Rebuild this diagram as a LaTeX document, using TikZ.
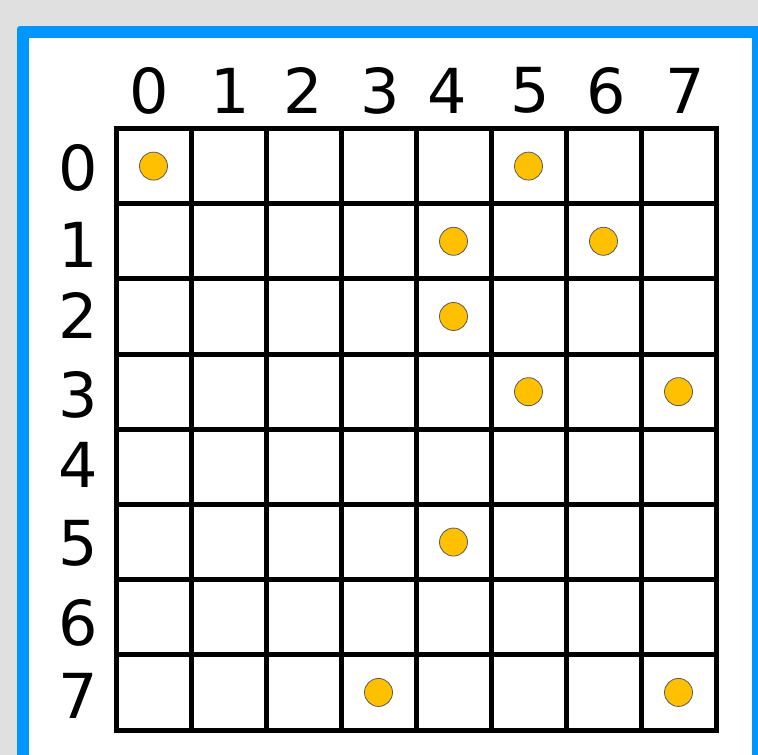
\documentclass[tikz,border=0pt]{standalone}
\usepackage{fontspec}
\setmainfont{DejaVu Sans}
\definecolor{framebg}{HTML}{E0E0E0}
\definecolor{frameblue}{HTML}{0096FF}
\definecolor{stonefill}{HTML}{FFC000}
\definecolor{stoneline}{HTML}{5A5A5A}

\begin{document}
\begin{tikzpicture}[
        x=1pt, y=-1pt,
        axislabel/.style={font=\fontsize{62}{62}\selectfont, inner sep=0pt},
        gridline/.style={line width=5pt, line cap=rect},
        stone/.style={circle, draw=stoneline, fill=stonefill, line width=0.8pt, minimum size=28pt, inner sep=0pt}
    ]
    \useasboundingbox (0,0) rectangle (758,755);
    \clip (0,0) rectangle (758,755);
    % Background and frame
    \fill[framebg] (0,0) rectangle (758,755);
    \fill[frameblue, rounded corners=3pt] (17,26) rectangle (790,790);
    \fill[white] (29,38) rectangle (752,790);
    % Column and row labels
    \foreach \x [count=\i from 0] in {149,230,303,380,447,530,606,685}
        \node[axislabel] (col-\i) at (\x,90.5) {\i};
    \foreach \y [count=\i from 0] in {167.5,244.5,315.5,394.5,464.5,543,623,695.5}
        \node[axislabel] (row-\i) at (78,\y) {\i};
    % Board
    \foreach \i in {0,...,8} {
        \draw[gridline] ({116+75*\i},128.5) -- ({116+75*\i},730);
        \draw[gridline] (116,{128.5+75.19*\i}) -- (716,{128.5+75.19*\i});
    }
    % Stones
    \foreach \r/\c in {0/0,0/5,1/4,1/6,2/4,3/5,3/7,5/4,7/3,7/7}
        \node[stone] (stone-\r-\c) at ({153.5+75*\c},{166.1+75.19*\r}) {};
\end{tikzpicture}
\end{document}
